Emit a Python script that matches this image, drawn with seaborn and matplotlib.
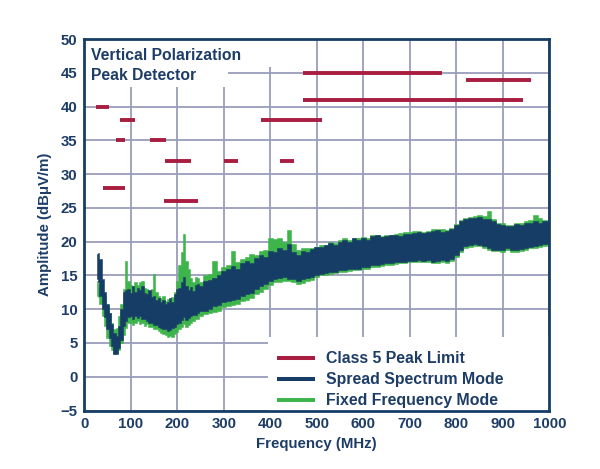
import matplotlib
matplotlib.use("Agg")
import matplotlib.pyplot as plt
import seaborn as sns
import pandas as pd
from matplotlib.patches import Rectangle
from matplotlib.lines import Line2D

# ---------------- data ----------------
freq = [27, 30, 35, 40, 45, 50, 55, 60, 65, 70, 75, 80, 85, 90, 95, 100,
        105, 110, 115, 120, 125, 130, 135, 140, 145, 150, 155, 160, 165, 170,
        175, 180, 185, 190, 195, 200, 205, 210, 215, 220, 225, 230, 235, 240,
        245, 250,
        260, 270, 280, 290, 300, 310, 320, 330, 340, 350, 360, 370, 380, 390,
        400, 410, 420, 430, 440, 450, 460, 470, 480, 490, 500, 510, 520, 530,
        540, 550, 560, 570, 580, 590, 600, 610, 620, 630, 640, 650, 660, 670,
        680, 690, 700, 710, 720, 730, 740, 750, 760, 770, 780, 790, 800, 810,
        820, 830, 840, 850, 860, 870, 880, 890, 900, 910, 920, 930, 940, 950,
        960, 970, 980, 990, 1000]

spread_lo = [14.5, 14.0, 12.0, 10.0, 8.8, 7.0, 5.8, 4.5, 3.3, 3.4, 4.2, 5.5, 7.5, 8.3, 8.8, 9.0,
             8.6, 9.0, 8.7, 9.0, 8.5, 8.6, 8.3, 8.0, 8.0, 7.7, 7.6, 7.4, 7.2, 7.0,
             7.0, 6.8, 6.9, 7.2, 7.4, 7.8, 8.0, 8.4, 8.8, 8.4, 8.7, 9.0, 9.2, 9.2,
             9.5, 9.7,
             9.8, 10.0, 10.4, 10.6, 11.0, 11.2, 11.3, 11.5, 12.0, 12.2, 12.4, 13.0, 13.4, 13.7,
             14.2, 14.5, 14.6, 14.7, 14.5, 14.4, 14.2, 14.4, 14.6, 14.8, 15.0, 15.2, 15.3, 15.5,
             15.5, 15.8, 15.8, 16.0, 16.0, 16.0, 16.2, 16.3, 16.5, 16.5, 16.7, 16.8, 16.8, 17.0,
             17.0, 17.0, 17.2, 17.2, 17.3, 17.2, 17.3, 17.0, 17.2, 17.3, 17.2, 17.5, 18.0, 18.8,
             19.3, 19.5, 19.6, 19.5, 19.3, 19.0, 18.8, 18.8, 18.8, 19.0, 18.7, 18.8, 18.9, 19.0,
             19.2, 19.3, 19.5, 19.6, 19.7]
spread_hi = [18.2, 18.3, 17.5, 14.5, 12.5, 10.8, 9.5, 7.8, 6.5, 6.0, 7.5, 10.0, 12.5, 12.8, 13.0, 12.4,
             13.4, 12.6, 13.2, 12.8, 13.4, 12.4, 12.2, 12.8, 11.8, 12.0, 11.4, 11.6, 11.0, 11.3,
             10.8, 11.0, 11.6, 11.0, 12.2, 13.0, 13.2, 14.0, 14.7, 13.4, 12.8, 13.3, 12.7, 13.6,
             13.8, 13.4,
             14.2, 14.3, 14.6, 15.0, 15.6, 16.0, 16.4, 16.0, 16.8, 17.2, 16.8, 17.6, 18.0, 17.8,
             18.6, 18.4, 19.0, 18.8, 19.6, 18.4, 18.0, 18.6, 18.4, 18.9, 19.2, 19.2, 19.5, 19.8,
             19.5, 20.0, 20.3, 20.0, 20.5, 20.3, 20.5, 20.3, 20.8, 21.0, 20.7, 20.8, 21.0, 21.0,
             20.8, 21.2, 21.2, 21.3, 21.4, 21.3, 21.5, 21.6, 21.7, 21.5, 21.6, 21.8, 22.5, 23.0,
             23.3, 23.5, 23.5, 23.7, 23.4, 23.3, 23.0, 22.6, 22.5, 22.3, 22.3, 22.6, 22.5, 22.7,
             22.8, 23.0, 22.8, 23.0, 23.0]

fixed_lo = [12.0, 11.8, 10.8, 9.0, 7.5, 5.8, 4.5, 4.0, 3.4, 3.5, 4.0, 5.0, 6.2, 7.2, 8.0, 8.0,
            7.6, 8.0, 8.3, 7.8, 8.0, 7.5, 7.8, 7.4, 7.3, 7.0, 7.0, 6.8, 6.5, 6.4,
            6.2, 5.9, 6.0, 5.9, 6.3, 6.6, 7.0, 7.4, 7.8, 7.4, 7.6, 8.0, 8.2, 8.5,
            8.6, 9.0,
            9.3, 9.5, 9.6, 9.8, 10.3, 10.5, 10.6, 10.8, 11.2, 11.4, 11.6, 12.2, 12.6, 13.0,
            13.6, 14.0, 14.0, 14.2, 14.2, 14.0, 13.8, 13.9, 14.2, 14.3, 14.8, 15.0, 15.0, 15.2,
            15.3, 15.5, 15.5, 15.7, 15.8, 15.8, 16.0, 16.0, 16.3, 16.3, 16.4, 16.5, 16.6, 16.7,
            16.8, 16.8, 17.0, 17.0, 17.0, 17.0, 17.0, 16.9, 16.9, 17.0, 16.8, 17.2, 17.8, 18.5,
            19.0, 19.2, 19.4, 19.3, 19.0, 18.8, 18.6, 18.6, 18.5, 18.7, 18.5, 18.5, 18.6, 18.7,
            19.0, 19.0, 19.2, 19.3, 19.5]
fixed_hi = [14.2, 13.8, 13.0, 12.5, 12.0, 10.5, 9.5, 8.0, 7.0, 7.2, 9.0, 10.8, 13.0, 17.2, 14.2, 13.6,
            13.4, 14.0, 13.6, 14.0, 14.2, 13.2, 13.0, 12.6, 13.0, 15.2, 12.6, 12.0, 11.6, 12.0,
            11.2, 11.5, 11.0, 11.8, 12.6, 14.2, 16.5, 18.5, 21.2, 17.2, 16.0, 14.6, 14.0, 14.8,
            14.6, 14.0,
            15.0, 15.2, 17.2, 15.6, 16.2, 16.6, 18.6, 17.0, 17.4, 17.8, 18.2, 18.0, 18.6, 18.8,
            20.5, 20.4, 20.6, 20.0, 21.7, 19.6, 18.8, 19.0, 19.0, 19.0, 19.2, 19.5, 19.5, 20.0,
            19.8, 20.2, 20.5, 20.3, 20.5, 20.5, 20.7, 20.5, 21.0, 21.0, 20.8, 21.0, 21.0, 21.2,
            21.3, 21.5, 21.5, 21.6, 21.6, 21.5, 21.6, 21.8, 21.8, 21.8, 21.7, 22.0, 22.6, 23.2,
            23.5, 23.6, 23.8, 23.9, 23.8, 24.6, 23.4, 22.8, 22.7, 22.5, 22.5, 22.8, 22.7, 23.0,
            23.2, 24.0, 23.5, 23.2, 23.1]

limit_start = [26, 76, 68, 142, 174, 300, 420, 41, 171, 380, 470, 470, 820]
limit_stop = [54, 108, 87, 175, 230, 330, 450, 88, 245, 512, 770, 944, 960]
limit_level = [40, 38, 35, 35, 32, 32, 32, 28, 26, 38, 45, 41, 44]

x_ticks = [0, 100, 200, 300, 400, 500, 600, 700, 800, 900, 1000]
y_ticks = [-5, 0, 5, 10, 15, 20, 25, 30, 35, 40, 45, 50]
y_tick_labels = ["\u22125", "0", "5", "10", "15", "20", "25", "30", "35", "40", "45", "50"]

series_labels = ["Class 5 Peak Limit", "Spread Spectrum Mode", "Fixed Frequency Mode"]
title_lines = ["Vertical Polarization", "Peak Detector"]

# ---------------- style ----------------
RED = "#A81D40"
NAVY = "#163D66"
GREEN = "#3DB54A"
TEXT = "#1D3D67"
GRID = "#9A9DBA"

sns.set_theme(style="white")
plt.rcParams["font.family"] = ["Liberation Sans", "DejaVu Sans"]
plt.rcParams["font.weight"] = "bold"

fig = plt.figure(figsize=(6.0, 4.69), dpi=100)
ax = fig.add_axes([0.1405, 0.1247, 0.775, 0.7921])

# limit segments via seaborn
rows = []
for i, (a, b, lv) in enumerate(zip(limit_start, limit_stop, limit_level)):
    rows.append({"f": a, "v": lv, "seg": i})
    rows.append({"f": b, "v": lv, "seg": i})
lim_df = pd.DataFrame(rows)

df = pd.DataFrame({"f": freq, "s_lo": spread_lo, "s_hi": spread_hi,
                   "x_lo": fixed_lo, "x_hi": fixed_hi})

# traces
ax.fill_between(df["f"], df["x_lo"], df["x_hi"], step="mid", facecolor=GREEN,
                edgecolor=GREEN, lw=0.4, zorder=3)
ax.fill_between(df["f"], df["s_lo"], df["s_hi"], step="mid", facecolor=NAVY,
                edgecolor=NAVY, lw=0.4, zorder=4)

sns.lineplot(data=lim_df, x="f", y="v", units="seg", estimator=None, color=RED,
             lw=2.8, ax=ax, zorder=5, legend=False)
for ln in ax.get_lines():
    ln.set_solid_capstyle("butt")

ax.set_xlim(0, 1000)
ax.set_ylim(-5, 50)
ax.set_xticks(x_ticks)
ax.set_yticks(y_ticks)
ax.set_yticklabels(y_tick_labels)
ax.grid(True, color=GRID, lw=1.3, zorder=0)
ax.set_axisbelow(True)
ax.tick_params(axis="both", length=0, labelsize=10.8, labelcolor=TEXT, pad=5)
for t in ax.get_xticklabels() + ax.get_yticklabels():
    t.set_fontweight("bold")
for s in ax.spines.values():
    s.set_color(NAVY)
    s.set_linewidth(2)
    s.set_zorder(10)

ax.set_xlabel("Frequency (MHz)", fontsize=10.8, fontweight="bold", color=TEXT, labelpad=4)
ax.set_ylabel("Amplitude (dB\u03bcV/m)", fontsize=10.8, fontweight="bold", color=TEXT, labelpad=6)

# white patches behind title and legend (hide gridlines)
ax.add_patch(Rectangle((0, 0.9246), 0.42, 0.08, transform=ax.transAxes, color="white", zorder=1, lw=0))
ax.add_patch(Rectangle((0, 0.871), 0.309, 0.1, transform=ax.transAxes, color="white", zorder=1, lw=0))
ax.add_patch(Rectangle((0.395, 0), 0.61, 0.198, transform=ax.transAxes, color="white", zorder=6, lw=0))

ax.text(0.0145, 0.955, title_lines[0], transform=ax.transAxes, fontsize=11.3,
        fontweight="bold", color=TEXT, va="center", ha="left", zorder=7)
ax.text(0.0145, 0.901, title_lines[1], transform=ax.transAxes, fontsize=11.3,
        fontweight="bold", color=TEXT, va="center", ha="left", zorder=7)

handles = [Line2D([], [], color=c, lw=2.9, solid_capstyle="butt") for c in (RED, NAVY, GREEN)]
leg = ax.legend(handles, series_labels, loc="upper left", bbox_to_anchor=(0.414, 0.159),
                frameon=False, fontsize=11.4, borderpad=0, borderaxespad=0,
                handlelength=2.4, handletextpad=0.68, labelspacing=0.37)
leg.set_zorder(8)
for t in leg.get_texts():
    t.set_color(TEXT)
    t.set_fontweight("bold")

fig.savefig("out.png", dpi=100)
